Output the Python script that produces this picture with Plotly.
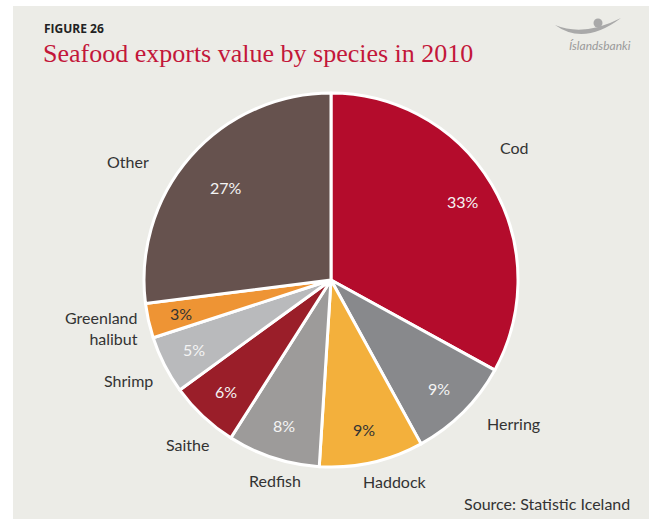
import math
import plotly.graph_objects as go

# Seafood export value shares, 2010 (percent), clockwise from 12 o'clock
species = ["Cod", "Herring", "Haddock", "Redfish", "Saithe", "Shrimp",
           "Greenland<br>halibut", "Other"]
share_pct = [33, 9, 9, 8, 6, 5, 3, 27]

slice_colors = ["#b40c2c", "#88898c", "#f3b03c", "#9d9b9a",
                "#9a1e29", "#b9babc", "#ee9434", "#66524e"]
pct_text_colors = ["#f4f4f4", "#f4f4f4", "#333333", "#f4f4f4",
                   "#f4f4f4", "#f4f4f4", "#333333", "#f4f4f4"]

W, H = 649, 519
CX, CY, R = 331, 280, 187  # pie centre and radius in page pixels


def px(x):
    return x / W


def py(y):
    return 1 - y / H


FONT = "Lato"
TXT = "#333333"

fig = go.Figure(go.Pie(
    labels=species,
    values=share_pct,
    sort=False,
    direction="clockwise",
    rotation=0,
    textinfo="none",
    hoverinfo="label+percent",
    marker=dict(colors=slice_colors, line=dict(color="white", width=3)),
    domain=dict(x=[px(CX - R), px(CX + R)], y=[py(CY + R), py(CY - R)]),
    showlegend=False,
))

annotations = []

# percentage labels inside each slice, placed along the slice's mid-angle
total = sum(share_pct)
start = 0.0
for i, v in enumerate(share_pct):
    sweep = 360.0 * v / total
    mid = math.radians(start + sweep / 2)
    rr = R * (0.75 if species[i] == "Other" else 0.82)
    x = CX + rr * math.sin(mid)
    y = CY - rr * math.cos(mid)
    annotations.append(dict(
        x=px(x), y=py(y), xref="paper", yref="paper",
        text=f"{v}%", showarrow=False, xanchor="center", yanchor="middle",
        font=dict(family=FONT, size=16, color=pct_text_colors[i]),
    ))
    start += sweep

# species names around the pie
name_pos = [
    (498, 148, "left"),
    (485, 423, "left"),
    (395, 481, "center"),
    (275, 480, "center"),
    (211, 444, "right"),
    (155, 380, "right"),
    (140, 328, "right"),
    (151, 162, "right"),
]
for name, (x, y, anc) in zip(species, name_pos):
    annotations.append(dict(
        x=px(x), y=py(y), xref="paper", yref="paper", text=name,
        showarrow=False, xanchor=anc, yanchor="middle", align="right",
        font=dict(family=FONT, size=16, color=TXT),
    ))

# headings, source and bank mark
annotations += [
    dict(x=px(42), y=py(29), xref="paper", yref="paper", text="<b>FIGURE 26</b>",
         showarrow=False, xanchor="left", yanchor="middle",
         font=dict(family="Open Sans", size=12, color="#222222")),
    dict(x=px(41), y=py(53), xref="paper", yref="paper",
         text="Seafood exports value by species in 2010",
         showarrow=False, xanchor="left", yanchor="middle",
         font=dict(family="Liberation Serif", size=26, color="#c3173a")),
    dict(x=px(632), y=py(503), xref="paper", yref="paper",
         text="Source: Statistic Iceland", showarrow=False,
         xanchor="right", yanchor="middle",
         font=dict(family=FONT, size=16, color=TXT)),
    dict(x=px(600), y=py(45), xref="paper", yref="paper",
         text="<i>Íslandsbanki</i>", showarrow=False,
         xanchor="center", yanchor="middle",
         font=dict(family=FONT, size=12, color="#9a9a9a")),
]


def path_px(points):
    cmds = []
    for p in points:
        if isinstance(p, str):
            cmds.append(p)
        else:
            cmds.append(f"{px(p[0]):.5f},{py(p[1]):.5f}")
    return " ".join(cmds)


shapes = [
    # grey panel behind the figure
    dict(type="rect", xref="paper", yref="paper", x0=px(13), x1=1.0,
         y0=0.0, y1=py(6), fillcolor="#ecece7", line=dict(width=0), layer="below"),
    # bank mark: swoosh and dot
    dict(type="path", xref="paper", yref="paper",
         path=path_px(["M", (555, 25), "Q", (584, 46), (621, 18),
                       "Q", (584, 37), (555, 25), "Z"]),
         fillcolor="#a9a9a9", line=dict(width=0)),
    dict(type="circle", xref="paper", yref="paper",
         x0=px(593.5), x1=px(602.5), y0=py(27.5), y1=py(18.5),
         fillcolor="#a9a9a9", line=dict(width=0)),
]

fig.update_layout(
    width=W, height=H,
    margin=dict(l=0, r=0, t=0, b=0),
    paper_bgcolor="white",
    plot_bgcolor="white",
    annotations=annotations,
    shapes=shapes,
)

fig.write_html("out.html")
